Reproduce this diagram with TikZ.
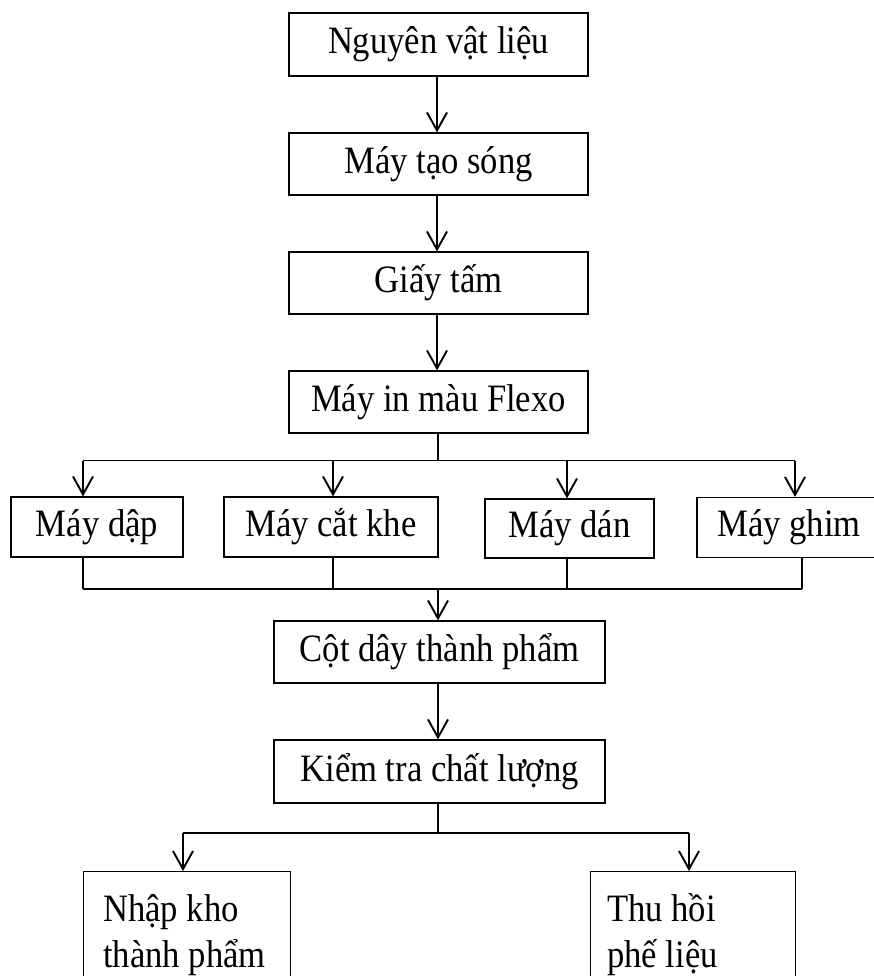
\documentclass[tikz,border=0pt]{standalone}
\usepackage{graphicx}
\usepackage{fontspec}
\setmainfont{Liberation Serif}
\usetikzlibrary{arrows.meta}
\newcommand\vstretch[1]{\scalebox{1}[1.12]{#1}}
\begin{document}
\begin{tikzpicture}[x=1pt,y=-1pt,
  box/.style={draw, line width=1.2pt, inner sep=0pt, font=\fontsize{34.6}{40}\selectfont},
  txt/.style={inner sep=0pt, font=\fontsize{34.6}{40}\selectfont},
  conn/.style={line width=1.9pt},
  arr/.style={line width=1.9pt, -{Straight Barb[length=18pt,width=20pt,line width=1.9pt]}}]
\useasboundingbox[fill=white] (0,0) rectangle (874,976);
% main column
\node[box, minimum width=299pt, minimum height=63pt] (n1) at (438.5,44.5) {\vstretch{Nguyên vật liệu}};
\node[box, minimum width=299pt, minimum height=62pt] (n2) at (438.5,164) {\vstretch{Máy tạo sóng}};
\node[box, minimum width=299pt, minimum height=62pt] (n3) at (438.5,283) {\vstretch{Giấy tấm}};
\node[box, minimum width=299pt, minimum height=62pt] (n4) at (438.5,402) {\vstretch{Máy in màu Flexo}};
% machines row
\node[box, minimum width=172pt, minimum height=60pt] (m1) at (97,527) {\vstretch{Máy dập}};
\node[box, minimum width=214pt, minimum height=60pt] (m2) at (331,527) {\vstretch{Máy cắt khe}};
\node[box, minimum width=169pt, minimum height=59pt] (m3) at (569.5,528.5) {\vstretch{Máy dán}};
\node[box, minimum width=184pt, minimum height=60pt] (m4) at (789,527.5) {\vstretch{Máy ghim}};
% lower column
\node[box, minimum width=331pt, minimum height=62pt] (n5) at (439.5,652) {\vstretch{Cột dây thành phẩm}};
\node[box, minimum width=331pt, minimum height=63pt] (n6) at (439.5,771.5) {\vstretch{Kiểm tra chất lượng}};
% bottom boxes
\node[box, anchor=north west, minimum width=207pt, minimum height=140pt] (b1) at (83,871) {};
\node[box, anchor=north west, minimum width=205pt, minimum height=140pt] (b2) at (590,871) {};
\node[txt, anchor=base west] (b1a) at (103,921) {\vstretch{Nhập kho}};
\node[txt, anchor=base west] (b1b) at (103,967) {\vstretch{thành phẩm}};
\node[txt, anchor=base west] (b2a) at (607,921) {\vstretch{Thu hồi}};
\node[txt, anchor=base west] (b2b) at (607,967) {\vstretch{phế liệu}};
% straight arrows
\draw[arr] (n1.south -| 437,0) -- (n2.north -| 437,0);
\draw[arr] (n2.south -| 437,0) -- (n3.north -| 437,0);
\draw[arr] (n3.south -| 437,0) -- (n4.north -| 437,0);
% fan out
\coordinate (s1) at (438,460.5);
\coordinate (f1) at (83,460.5);
\coordinate (f2) at (333,460.5);
\coordinate (f3) at (567,460.5);
\coordinate (f4) at (795,460.5);
\draw[conn] (n4.south -| s1) -- (s1);
\draw[conn] (f1) -- (f4);
\draw[arr] (f1) -- (f1 |- m1.north);
\draw[arr] (f2) -- (f2 |- m2.north);
\draw[arr] (f3) -- (f3 |- m3.north);
\draw[arr] (f4) -- (f4 |- m4.north);
% fan in
\coordinate (g1) at (83,589);
\coordinate (g2) at (333,589);
\coordinate (g3) at (567,589);
\coordinate (g4) at (802,589);
\coordinate (g0) at (438,589);
\draw[conn] (g1 |- m1.south) -- (g1);
\draw[conn] (g2 |- m2.south) -- (g2);
\draw[conn] (g3 |- m3.south) -- (g3);
\draw[conn] (g4 |- m4.south) -- (g4);
\draw[conn] (g1) -- (g4);
\draw[arr] (g0) -- (g0 |- n5.north);
\draw[arr] (n5.south -| g0) -- (n6.north -| g0);
% split
\coordinate (h0) at (438,833);
\coordinate (h1) at (183,833);
\coordinate (h2) at (689,833);
\draw[conn] (n6.south -| h0) -- (h0);
\draw[conn] (h1) -- (h2);
\draw[arr] (h1) -- (h1 |- b1.north);
\draw[arr] (h2) -- (h2 |- b2.north);
\end{tikzpicture}
\end{document}
